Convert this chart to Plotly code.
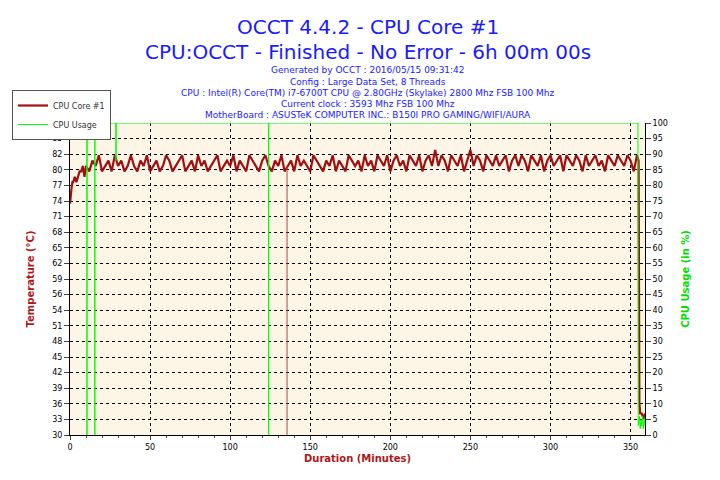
import plotly.graph_objects as go

# temperature readings (minutes, deg C)
temp_t_start = [0, 0.5, 1, 1.5, 2, 3, 4, 5, 6, 7, 8, 9, 10]
temp_start = [73, 75, 76, 77, 77, 78, 77, 78, 79, 79, 80, 78, 80]
temp_mid = [
    79, 81, 80, 82, 79, 80, 81, 79, 82, 80, 81, 79, 80, 82, 80, 79, 81, 80, 82, 79,
    80, 81, 79, 80, 82, 81, 79, 80, 81, 82, 79, 80, 81, 79, 82, 80, 81, 79, 80, 81,
    82, 79, 80, 81, 80, 82, 79, 81, 80, 79, 82, 81, 80, 79, 81, 82, 80, 79, 81, 80,
    82, 79, 80, 81, 79, 82, 80, 81, 80, 79, 82, 81, 80, 79, 81, 80, 82, 79, 81, 80,
    79, 82, 81, 80, 81, 79, 82, 80, 81, 79, 82, 81, 80, 82, 79, 81, 82, 80, 81, 79,
    82, 81, 80, 82, 79, 81, 82, 80, 83, 80, 82, 81, 79, 82, 81, 80, 82, 79, 81, 83,
    80, 82, 81, 79, 82, 81, 80, 82, 80, 81, 82, 79, 81, 82, 80, 82, 81, 79, 82, 81,
    80, 82, 79, 81, 82, 80, 81, 82, 79, 82, 81, 80, 82, 81, 79, 82, 80, 81, 82, 80,
    81, 79, 82, 81, 80, 82, 81, 80, 82, 81, 79, 82,
]
temp_t_mid = [12 + 2 * i for i in range(len(temp_mid))]
temp_t_end = [355, 355.5, 356, 357, 358, 359]
temp_end = [81, 36, 34, 34, 33, 34]
glitch_t = [135.5, 135.5]
glitch_v = [80, 30]

# cpu usage (minutes, %)
cpu_t = [0, 10.5, 10.6, 10.7, 15.4, 15.5, 15.6, 28.6, 28.7, 28.9, 123.9, 124.0, 124.1,
         354.6, 354.8, 355.5, 356, 356.5, 357, 357.5, 358, 358.5, 359]
cpu_v = [100, 100, 0, 100, 100, 0, 100, 100, 88, 100, 100, 0, 100,
         100, 3, 6, 2, 5, 3, 6, 2, 5, 3]

left_ticks = [30 + 2.9 * k for k in range(21)]
left_labels = ["30", "33", "36", "39", "42", "45", "48", "51", "54", "56", "59",
               "62", "65", "68", "71", "74", "77", "80", "82", "85", "88"]

pts = list(zip(temp_t_start, temp_start)) + list(zip(temp_t_mid, temp_mid)) + \
    list(zip(temp_t_end, temp_end))
pts.sort()
tx = [p[0] for p in pts]
ty = [p[1] for p in pts]

ML, MR, MT, MB = 62, 83, 115, 53
PH = 480 - MT - MB
PW = 720 - ML - MR

fig = go.Figure()
fig.add_trace(go.Scatter(x=cpu_t, y=cpu_v, mode="lines", name="CPU Usage",
                         line=dict(color="#00ff00", width=1), yaxis="y2"))
fig.add_trace(go.Scatter(x=tx, y=ty, mode="lines", name="CPU Core #1",
                         line=dict(color="#a01010", width=2.2)))
fig.add_trace(go.Scatter(x=glitch_t, y=glitch_v, mode="lines", showlegend=False,
                         line=dict(color="#a05050", width=1)))

fig.update_layout(
    width=720, height=480,
    paper_bgcolor="white", plot_bgcolor="#fdf5e6",
    font=dict(family="DejaVu Sans", size=8, color="black"),
    margin=dict(l=ML, r=MR, t=MT, b=MB, autoexpand=False),
    showlegend=True,
    legend=dict(x=(4 - ML) / PW, y=(480 - MB - 82) / PH,
                xanchor="left", yanchor="top", bgcolor="white",
                bordercolor="#555", borderwidth=1, traceorder="reversed",
                itemwidth=30, tracegroupgap=0,
                font=dict(size=8, color="#333", family="DejaVu Sans")),
    xaxis=dict(range=[0, 359], tickvals=[0, 50, 100, 150, 200, 250, 300, 350],
               showgrid=True, gridcolor="black", griddash="dot", gridwidth=1,
               zeroline=False, ticks="outside", ticklen=4,
               minor=dict(dtick=10, ticks="outside", ticklen=2),
               showline=True, linecolor="black", automargin=False,
               title=dict(text="<b>Duration (Minutes)</b>", font=dict(color="#b01818", size=10), standoff=4)),
    yaxis=dict(range=[30, 88], tickvals=left_ticks, ticktext=left_labels,
               showgrid=True, gridcolor="black", griddash="dot", gridwidth=1,
               zeroline=False, ticks="outside", ticklen=5, showline=True, linecolor="black",
               automargin=False,
               title=dict(text="<b>Temperature (°C)</b>", font=dict(color="#b01818", size=10))),
    yaxis2=dict(range=[0, 100], dtick=5, overlaying="y", side="right",
                showgrid=False, zeroline=False, ticks="outside", ticklen=5,
                showline=True, linecolor="black", automargin=False,
                title=dict(text="<b>CPU Usage (in %)</b>", font=dict(color="#00e000", size=10))),
)

# title block, placed by pixel row in the screenshot
title_lines = [
    ("OCCT 4.4.2 - CPU Core #1", 20, 19),
    ("CPU:OCCT - Finished - No Error - 6h 00m 00s", 20, 44),
    ("Generated by OCCT : 2016/05/15 09:31:42", 9, 62),
    ("Config : Large Data Set, 8 Threads", 9, 74),
    ("CPU : Intel(R) Core(TM) i7-6700T CPU @ 2.80GHz (Skylake) 2800 Mhz FSB 100 Mhz", 9, 85),
    ("Current clock : 3593 Mhz FSB 100 Mhz", 9, 96),
    ("MotherBoard : ASUSTeK COMPUTER INC.: B150I PRO GAMING/WIFI/AURA", 9, 107),
]
for text, size, ypx in title_lines:
    fig.add_annotation(text=text, x=(360 - ML) / PW,
                       y=(480 - ypx - MB) / PH,
                       xref="paper", yref="paper", showarrow=False,
                       font=dict(size=size, color="#1a1aff"),
                       xanchor="center", yanchor="middle")

fig.write_html("out.html")
